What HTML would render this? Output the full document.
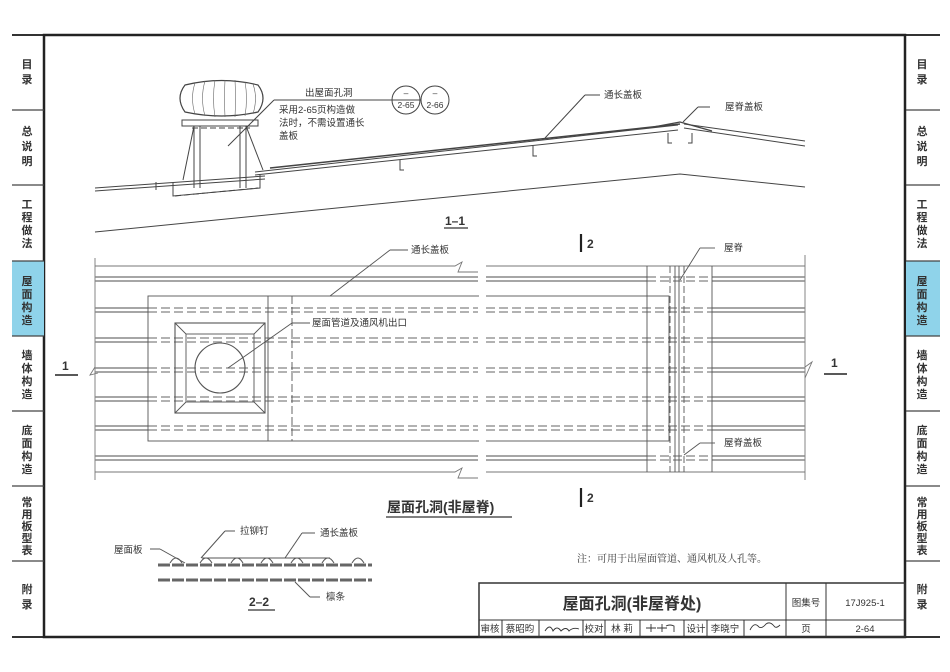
<!DOCTYPE html>
<html><head><meta charset="utf-8"><style>
html,body{margin:0;padding:0;background:#fff;}
svg{display:block;}
text{font-family:"Liberation Sans","Noto Sans CJK SC",sans-serif;fill:#333;}
.s{font-family:"Noto Serif CJK SC","Noto Sans CJK SC",serif;}
</style></head><body>
<svg width="950" height="672" viewBox="0 0 950 672" xmlns="http://www.w3.org/2000/svg">
<defs>
<g id="dashrow">
  <line x1="95" y1="-2" x2="148" y2="-2" stroke="#888" stroke-width="1.6"/>
  <line x1="95" y1="2" x2="148" y2="2" stroke="#888" stroke-width="1.6"/>
  <line x1="148" y1="-2" x2="478" y2="-2" stroke="#999" stroke-width="1.6" stroke-dasharray="9,4"/>
  <line x1="148" y1="2" x2="478" y2="2" stroke="#999" stroke-width="1.6" stroke-dasharray="9,4"/>
  <line x1="486" y1="-2" x2="712" y2="-2" stroke="#999" stroke-width="1.6" stroke-dasharray="9,4"/>
  <line x1="486" y1="2" x2="712" y2="2" stroke="#999" stroke-width="1.6" stroke-dasharray="9,4"/>
  <line x1="712" y1="-2" x2="805" y2="-2" stroke="#888" stroke-width="1.6"/>
  <line x1="712" y1="2" x2="805" y2="2" stroke="#888" stroke-width="1.6"/>
</g>
<g id="solidrow">
  <line x1="95" y1="-2" x2="478" y2="-2" stroke="#888" stroke-width="1.6"/>
  <line x1="95" y1="2" x2="478" y2="2" stroke="#888" stroke-width="1.6"/>
  <line x1="486" y1="-2" x2="647" y2="-2" stroke="#888" stroke-width="1.6"/>
  <line x1="486" y1="2" x2="647" y2="2" stroke="#888" stroke-width="1.6"/>
  <line x1="647" y1="-2" x2="712" y2="-2" stroke="#999" stroke-width="1.6" stroke-dasharray="9,4"/>
  <line x1="647" y1="2" x2="712" y2="2" stroke="#999" stroke-width="1.6" stroke-dasharray="9,4"/>
  <line x1="712" y1="-2" x2="805" y2="-2" stroke="#888" stroke-width="1.6"/>
  <line x1="712" y1="2" x2="805" y2="2" stroke="#888" stroke-width="1.6"/>
</g>
</defs>

<!-- frame -->
<line x1="12" y1="35" x2="940" y2="35" stroke="#333" stroke-width="2"/>
<line x1="12" y1="637" x2="940" y2="637" stroke="#333" stroke-width="2"/>
<rect x="44" y="35" width="861" height="602" fill="none" stroke="#222" stroke-width="2.5"/>
<!-- sidebars -->
<rect x="12" y="261" width="32" height="75" fill="#8fd3ea"/>
<rect x="906" y="261" width="34" height="75" fill="#8fd3ea"/>
<g stroke="#444" stroke-width="1.2">
<line x1="12" y1="110" x2="44" y2="110"/><line x1="12" y1="185" x2="44" y2="185"/><line x1="12" y1="261" x2="44" y2="261"/><line x1="12" y1="336" x2="44" y2="336"/><line x1="12" y1="411" x2="44" y2="411"/><line x1="12" y1="486" x2="44" y2="486"/><line x1="12" y1="561" x2="44" y2="561"/>
<line x1="906" y1="110" x2="940" y2="110"/><line x1="906" y1="185" x2="940" y2="185"/><line x1="906" y1="261" x2="940" y2="261"/><line x1="906" y1="336" x2="940" y2="336"/><line x1="906" y1="411" x2="940" y2="411"/><line x1="906" y1="486" x2="940" y2="486"/><line x1="906" y1="561" x2="940" y2="561"/>
</g>
<g font-size="11" font-weight="bold" text-anchor="middle">
<text x="27" y="68">目</text><text x="27" y="83">录</text>
<text x="27" y="135">总</text><text x="27" y="150">说</text><text x="27" y="165">明</text>
<text x="27" y="208">工</text><text x="27" y="221">程</text><text x="27" y="234">做</text><text x="27" y="247">法</text>
<text x="27" y="285">屋</text><text x="27" y="298">面</text><text x="27" y="311">构</text><text x="27" y="324">造</text>
<text x="27" y="359">墙</text><text x="27" y="372">体</text><text x="27" y="385">构</text><text x="27" y="398">造</text>
<text x="27" y="434">底</text><text x="27" y="447">面</text><text x="27" y="460">构</text><text x="27" y="473">造</text>
<text x="27" y="506">常</text><text x="27" y="518">用</text><text x="27" y="530">板</text><text x="27" y="542">型</text><text x="27" y="554">表</text>
<text x="27" y="593">附</text><text x="27" y="608">录</text>
<text x="922" y="68">目</text><text x="922" y="83">录</text>
<text x="922" y="135">总</text><text x="922" y="150">说</text><text x="922" y="165">明</text>
<text x="922" y="208">工</text><text x="922" y="221">程</text><text x="922" y="234">做</text><text x="922" y="247">法</text>
<text x="922" y="285">屋</text><text x="922" y="298">面</text><text x="922" y="311">构</text><text x="922" y="324">造</text>
<text x="922" y="359">墙</text><text x="922" y="372">体</text><text x="922" y="385">构</text><text x="922" y="398">造</text>
<text x="922" y="434">底</text><text x="922" y="447">面</text><text x="922" y="460">构</text><text x="922" y="473">造</text>
<text x="922" y="506">常</text><text x="922" y="518">用</text><text x="922" y="530">板</text><text x="922" y="542">型</text><text x="922" y="554">表</text>
<text x="922" y="593">附</text><text x="922" y="608">录</text>
</g>

<!-- ===== Section 1-1 ===== -->
<g fill="none" stroke="#444" stroke-width="1">
<line x1="95" y1="188" x2="265" y2="176"/><line x1="95" y1="191" x2="265" y2="179"/>
<line x1="255" y1="172" x2="678" y2="125"/><line x1="255" y1="175" x2="678" y2="130"/>
<line x1="270" y1="168" x2="680" y2="124" stroke-width="1.5"/>
<line x1="684" y1="124" x2="805" y2="141"/><line x1="684" y1="128" x2="805" y2="146"/>
<polyline points="648,128 680,122 712,131" stroke-width="1.3"/>
<polyline points="95,232 680,174 805,187"/>
<path d="M185,85 Q222,76 258,85 Q268,98 258,112 Q222,120 185,112 Q175,98 185,85 Z" stroke-width="1.2"/>
<g stroke-width="0.6" stroke="#666">
<path d="M195,83 Q190,98 195,114"/><path d="M205,81 Q200,98 205,116"/><path d="M215,80 Q212,98 215,117"/><path d="M225,80 Q224,98 225,117"/><path d="M235,80 Q236,98 235,117"/><path d="M245,82 Q248,98 245,116"/><path d="M253,84 Q258,98 253,114"/>
</g>
<rect x="182" y="120" width="76" height="6"/>
<line x1="192" y1="128" x2="250" y2="128" stroke-dasharray="6,3"/>
<line x1="194" y1="126" x2="183" y2="180"/><line x1="246" y1="126" x2="263" y2="170"/>
<line x1="194" y1="126" x2="194" y2="188"/><line x1="200" y1="126" x2="200" y2="188"/>
<line x1="240" y1="126" x2="240" y2="188"/><line x1="246" y1="126" x2="246" y2="188"/>
<polyline points="173,183 173,196 260,188 260,175"/>
<line x1="175" y1="196" x2="258" y2="188" stroke-dasharray="6,3"/>
<path d="M156,182 v8"/><path d="M400,160 v10 h4"/><path d="M533,146 v10 h4"/><path d="M668,133 v10 h4"/><path d="M692,133 v10 h-4"/>
<line x1="228" y1="146" x2="274" y2="100"/><line x1="274" y1="100" x2="420" y2="100"/>
<line x1="545" y1="138" x2="585" y2="95"/><line x1="585" y1="95" x2="600" y2="95"/>
<line x1="683" y1="122" x2="698" y2="107"/><line x1="698" y1="107" x2="710" y2="107"/>
<circle cx="406" cy="100" r="14"/><circle cx="435" cy="100" r="14"/>
</g>
<g class="s" font-size="9.5">
<text x="305" y="96">出屋面孔洞</text>
<text x="279" y="113">采用2-65页构造做</text>
<text x="279" y="126">法时，不需设置通长</text>
<text x="279" y="139">盖板</text>
<text x="604" y="98">通长盖板</text>
<text x="725" y="110">屋脊盖板</text>
</g>
<g font-size="8.5" text-anchor="middle"><text x="406" y="96">–</text><text x="406" y="108">2-65</text><text x="435" y="96">–</text><text x="435" y="108">2-66</text></g>
<text x="445" y="225" font-size="12" font-weight="bold">1–1</text>
<line x1="444" y1="228" x2="468" y2="228" stroke="#333" stroke-width="1.2"/>

<!-- ===== Plan ===== -->
<g fill="none" stroke="#777" stroke-width="0.9">
<polyline points="95,266 455,266 462,262 458,272 478,272"/>
<line x1="486" y1="266" x2="805" y2="266"/>
<polyline points="95,472 455,472 462,468 458,478 478,478"/>
<line x1="486" y1="472" x2="805" y2="472"/>
<line x1="95" y1="258" x2="95" y2="480"/>
<line x1="805" y1="255" x2="805" y2="480"/>
<polyline points="95,367 90,375 98,373"/>
<polyline points="805,367 812,362 805,378"/>
</g>
<use href="#solidrow" y="279"/>
<use href="#dashrow" y="310"/>
<use href="#dashrow" y="340"/>
<use href="#dashrow" y="370"/>
<use href="#dashrow" y="399"/>
<use href="#dashrow" y="428"/>
<use href="#solidrow" y="458"/>
<g fill="none" stroke="#555" stroke-width="0.9">
<rect x="148" y="296" width="521" height="145"/>
<line x1="268" y1="296" x2="268" y2="441"/>
<line x1="292" y1="296" x2="292" y2="441" stroke-dasharray="8,3"/>
<rect x="175" y="323" width="90" height="90" stroke-width="1.1"/>
<rect x="186" y="334" width="68" height="68"/>
<line x1="175" y1="323" x2="186" y2="334"/><line x1="265" y1="323" x2="254" y2="334"/><line x1="175" y1="413" x2="186" y2="402"/><line x1="265" y1="413" x2="254" y2="402"/>
<circle cx="220" cy="368" r="25" stroke-width="1.1"/>
<line x1="647" y1="266" x2="647" y2="472"/>
<line x1="712" y1="266" x2="712" y2="472"/>
<line x1="675" y1="266" x2="675" y2="472"/><line x1="679" y1="266" x2="679" y2="472"/>
<line x1="670" y1="266" x2="670" y2="472" stroke-dasharray="7,3"/><line x1="684" y1="266" x2="684" y2="472" stroke-dasharray="7,3"/>
<line x1="330" y1="296" x2="390" y2="250"/><line x1="390" y1="250" x2="408" y2="250"/>
<line x1="228" y1="368" x2="292" y2="323"/><line x1="292" y1="323" x2="310" y2="323"/>
<line x1="680" y1="280" x2="700" y2="248"/><line x1="700" y1="248" x2="715" y2="248"/>
<line x1="684" y1="455" x2="700" y2="443"/><line x1="700" y1="443" x2="715" y2="443"/>
</g>
<rect x="479" y="258" width="7" height="225" fill="#fff"/>
<g class="s" font-size="9.5">
<text x="411" y="253">通长盖板</text>
<text x="312" y="326">屋面管道及通风机出口</text>
<text x="724" y="251">屋脊</text>
<text x="724" y="446">屋脊盖板</text>
</g>
<line x1="581" y1="234" x2="581" y2="252" stroke="#222" stroke-width="2.2"/>
<text x="587" y="248" font-size="12" font-weight="bold">2</text>
<line x1="581" y1="488" x2="581" y2="507" stroke="#222" stroke-width="2.2"/>
<text x="587" y="502" font-size="12" font-weight="bold">2</text>
<text x="62" y="370" font-size="12" font-weight="bold">1</text>
<line x1="55" y1="375" x2="78" y2="375" stroke="#222" stroke-width="1.5"/>
<text x="831" y="367" font-size="12" font-weight="bold">1</text>
<line x1="824" y1="374" x2="847" y2="374" stroke="#222" stroke-width="1.5"/>
<text x="387" y="512" font-size="14" font-weight="bold">屋面孔洞(非屋脊)</text>
<line x1="386" y1="517" x2="512" y2="517" stroke="#333" stroke-width="1.3"/>

<!-- ===== 2-2 ===== -->
<g fill="none" stroke="#555" stroke-width="1">
<line x1="158" y1="565" x2="372" y2="565" stroke-width="3" stroke="#666" stroke-dasharray="12,2"/>
<line x1="158" y1="580" x2="372" y2="580" stroke-width="3" stroke="#666" stroke-dasharray="12,2"/>
<path d="M170,563 q6,-10 12,0 M200,563 q6,-10 12,0 M231,563 q6,-10 12,0 M261,563 q6,-10 12,0 M291,563 q6,-10 12,0 M322,563 q6,-10 12,0 M352,563 q6,-10 12,0"/>
<line x1="202" y1="558" x2="330" y2="558"/>
<line x1="150" y1="549" x2="160" y2="549"/><line x1="160" y1="549" x2="185" y2="563"/>
<line x1="201" y1="558" x2="225" y2="531"/><line x1="225" y1="531" x2="235" y2="531"/>
<line x1="285" y1="558" x2="302" y2="533"/><line x1="302" y1="533" x2="315" y2="533"/>
<line x1="295" y1="582" x2="310" y2="597"/><line x1="310" y1="597" x2="320" y2="597"/>
</g>
<g class="s" font-size="9.5">
<text x="114" y="553">屋面板</text>
<text x="240" y="534">拉铆钉</text>
<text x="320" y="536">通长盖板</text>
<text x="326" y="600">檩条</text>
</g>
<text x="249" y="606" font-size="12" font-weight="bold">2–2</text>
<line x1="248" y1="610" x2="275" y2="610" stroke="#333" stroke-width="1.2"/>
<text x="577" y="562" class="s" font-size="10">注：可用于出屋面管道、通风机及人孔等。</text>

<!-- ===== Title block ===== -->
<g fill="none" stroke="#333" stroke-width="1">
<rect x="479" y="583" width="426" height="54" stroke-width="1.5"/>
<line x1="479" y1="620" x2="905" y2="620"/>
<line x1="786" y1="583" x2="786" y2="637"/><line x1="826" y1="583" x2="826" y2="637"/>
<line x1="502" y1="620" x2="502" y2="637"/><line x1="539" y1="620" x2="539" y2="637"/><line x1="583" y1="620" x2="583" y2="637"/><line x1="605" y1="620" x2="605" y2="637"/><line x1="640" y1="620" x2="640" y2="637"/><line x1="684" y1="620" x2="684" y2="637"/><line x1="707" y1="620" x2="707" y2="637"/><line x1="744" y1="620" x2="744" y2="637"/>
</g>
<text x="632" y="609" font-size="16" font-weight="bold" text-anchor="middle" fill="#222">屋面孔洞(非屋脊处)</text>
<g font-size="9.5" class="s" text-anchor="middle">
<text x="806" y="606">图集号</text><text x="865" y="606">17J925-1</text>
<text x="490" y="632">审核</text><text x="520" y="632">蔡昭昀</text><text x="594" y="632">校对</text><text x="622" y="632">林 莉</text><text x="696" y="632">设计</text><text x="725" y="632">李晓宁</text>
<text x="806" y="632">页</text><text x="865" y="632">2-64</text>
</g>
<g fill="none" stroke="#333" stroke-width="0.9">
<path d="M545,631 q5,-8 8,0 q4,-6 8,0 q5,-5 8,0 q4,-4 10,-2"/>
<path d="M646,628 h10 m-5,-4 v8 m6,-4 h10 m-5,-4 v8 m4,-6 q4,-2 8,0 v6"/>
<path d="M750,630 q4,-8 8,-4 q3,4 8,-2 q4,-3 8,2 q2,3 6,-1"/>
</g>
</svg>
</body></html>
